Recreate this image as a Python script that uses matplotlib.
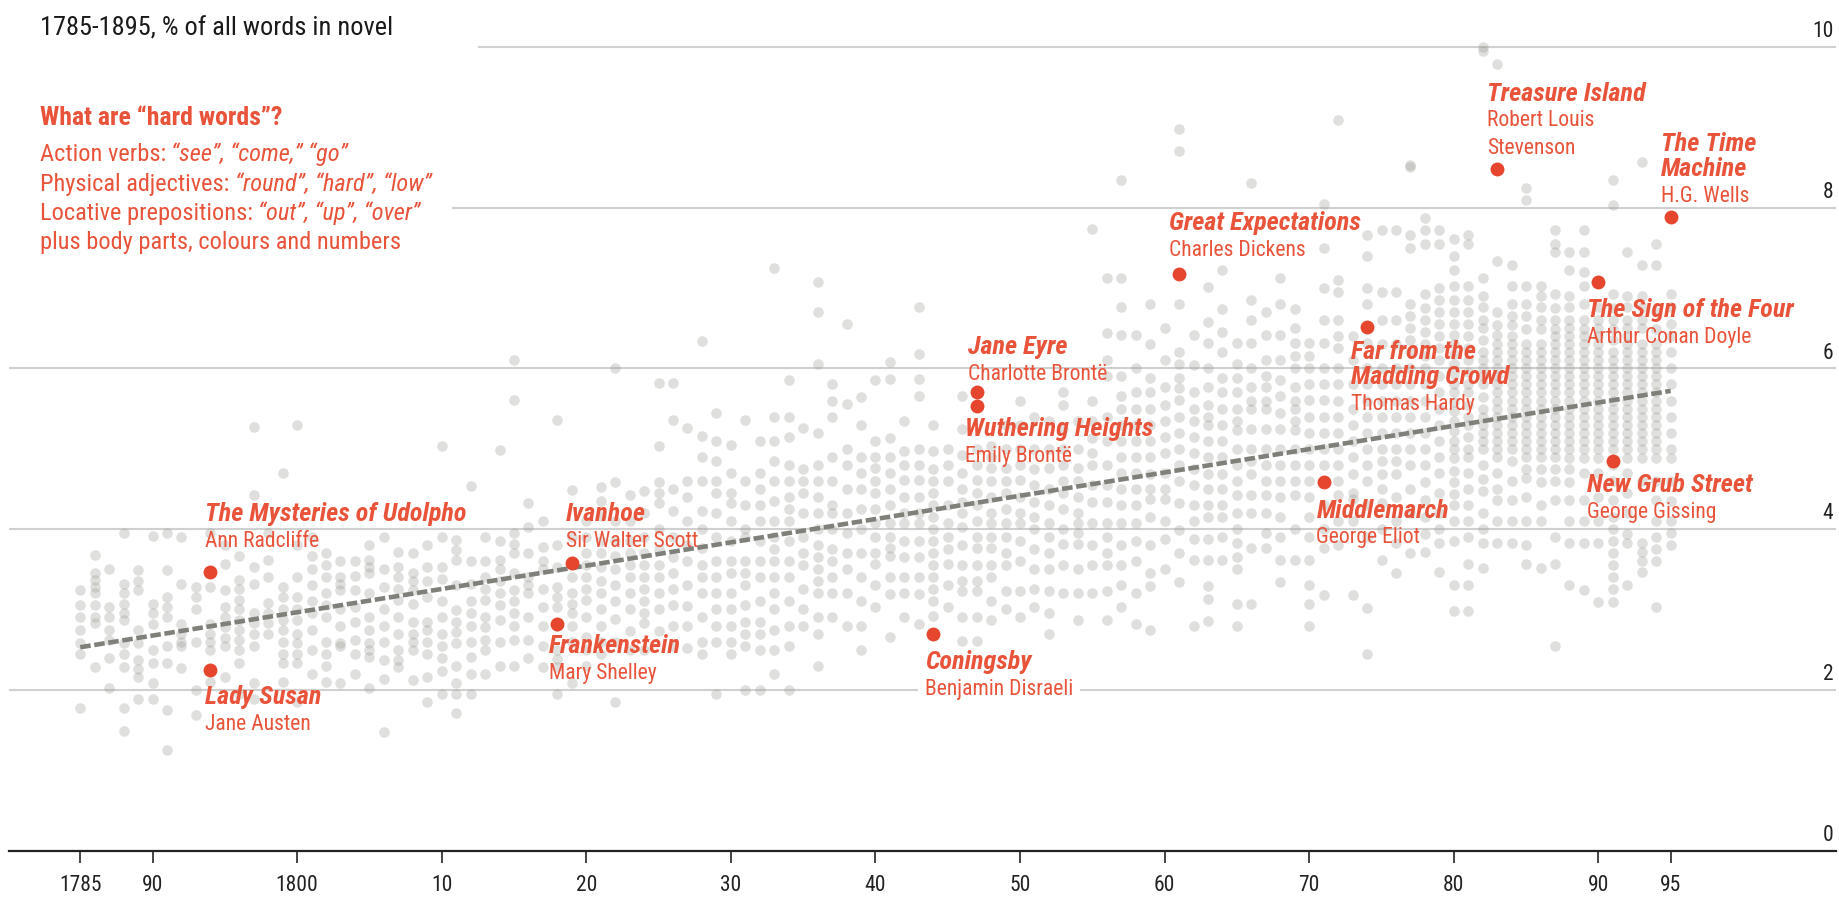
import matplotlib
matplotlib.use("Agg")
import matplotlib.pyplot as plt
from matplotlib import font_manager

# ---- data ----
tick_years = [1785, 1790, 1800, 1810, 1820, 1830, 1840, 1850, 1860, 1870, 1880, 1890, 1895]
tick_labels = ["1785", "90", "1800", "10", "20", "30", "40", "50", "60", "70", "80", "90", "95"]
y_ticks = [0, 2, 4, 6, 8, 10]

trend_years = [1785, 1895]
trend_values = [2.53, 5.72]

book_titles = ["The Mysteries of Udolpho", "Lady Susan", "Ivanhoe", "Frankenstein", "Coningsby",
               "Jane Eyre", "Wuthering Heights", "Great Expectations", "Far from the\nMadding Crowd",
               "Middlemarch", "Treasure Island", "The Time\nMachine", "The Sign of the Four",
               "New Grub Street"]
book_authors = ["Ann Radcliffe", "Jane Austen", "Sir Walter Scott", "Mary Shelley", "Benjamin Disraeli",
                "Charlotte Brontë", "Emily Brontë", "Charles Dickens", "Thomas Hardy",
                "George Eliot", "Robert Louis\nStevenson", "H.G. Wells", "Arthur Conan Doyle",
                "George Gissing"]
book_years = [1794, 1794, 1819, 1818, 1844, 1847, 1847, 1861, 1874, 1871, 1883, 1895, 1890, 1891]
book_values = [3.47, 2.25, 3.58, 2.82, 2.70, 5.71, 5.53, 7.17, 6.51, 4.58, 8.48, 7.88, 7.08, 4.85]

# all other novels, per publication year
cloud_1780s = {
    1785: [3.24, 3.05, 2.9, 2.74, 2.58, 2.45, 1.77],
    1786: [3.68, 3.45, 3.37, 3.28, 3.2, 3.05, 2.91, 2.83, 2.29],
    1787: [3.5, 3.03, 2.91, 2.75, 2.62, 2.4, 2.02],
    1788: [3.95, 3.32, 3.2, 3.07, 2.95, 2.87, 2.58, 2.45, 2.29, 1.77, 1.49],
    1789: [3.49, 3.36, 3.24, 2.74, 2.58, 2.37, 2.26, 2.16, 1.89],
}
cloud_1790s = {
    1790: [3.91, 3.07, 2.95, 2.82, 2.49, 2.33, 2.08, 1.88],
    1791: [3.95, 3.49, 3.16, 3.03, 2.91, 2.54, 2.33, 1.75, 1.25],
    1792: [3.9, 3.32, 2.82, 2.7, 2.6, 2.54, 2.27],
    1793: [3.28, 3.16, 3.0, 2.6, 2.0, 1.69],
    1794: [3.95, 3.28, 2.82, 2.7, 2.6, 2.49, 2.1],
    1795: [3.8, 3.57, 3.24, 3.03, 2.91, 2.78, 2.64, 2.54, 2.16],
    1796: [3.66, 3.37, 3.25, 3.12, 3.0, 2.87, 2.75, 2.62, 2.5, 2.33, 1.95],
    1797: [5.27, 4.42, 3.53, 3.32, 2.95, 2.83, 2.7, 2.54, 2.08, 1.88],
    1798: [3.95, 3.61, 3.4, 3.08, 2.95, 2.83, 2.7],
    1799: [4.7, 3.28, 3.15, 3.0, 2.87, 2.75, 2.6, 2.45, 2.33, 2.1],
}
cloud_1800s = {
    1800: [5.3, 3.8, 3.4, 3.16, 3.0, 2.87, 2.7, 2.58, 2.45, 2.33, 1.85],
    1801: [3.9, 3.66, 3.5, 3.3, 3.1, 2.95, 2.75, 2.5, 2.2],
    1802: [3.7, 3.55, 3.4, 3.2, 3.05, 2.9, 2.6, 2.45, 2.3, 2.1],
    1803: [3.6, 3.4, 3.32, 3.24, 3.0, 2.79, 2.58, 2.54, 2.08],
    1804: [3.6, 3.42, 3.24, 3.03, 2.85, 2.62, 2.45, 2.2],
    1805: [3.8, 3.62, 3.53, 3.45, 3.2, 2.91, 2.75, 2.58, 2.5, 2.41, 2.02],
    1806: [3.9, 3.5, 3.28, 3.0, 2.8, 2.6, 2.37, 2.14, 1.47],
    1807: [3.72, 3.53, 3.4, 3.25, 3.12, 2.9, 2.7, 2.5, 2.37, 2.29],
    1808: [3.7, 3.45, 3.35, 3.24, 3.07, 2.85, 2.7, 2.6, 2.49, 2.12],
    1809: [3.8, 3.53, 3.35, 3.16, 2.85, 2.75, 2.6, 2.45, 2.16, 1.85],
}
cloud_1810s = {
    1810: [5.03, 3.9, 3.53, 3.38, 3.1, 2.9, 2.7, 2.55, 2.4, 2.24, 1.95],
    1811: [3.86, 3.74, 3.62, 3.3, 2.99, 2.85, 2.72, 2.58, 2.3, 2.08, 1.95, 1.71],
    1812: [4.54, 3.6, 3.32, 3.1, 2.95, 2.8, 2.6, 2.41, 2.2, 1.95],
    1813: [3.9, 3.6, 3.4, 3.26, 3.12, 2.91, 2.78, 2.62, 2.49, 2.2],
    1814: [4.99, 3.85, 3.62, 3.5, 3.35, 3.2, 3.05, 2.87, 2.6, 2.3],
    1815: [6.11, 5.61, 3.95, 3.82, 3.7, 3.45, 3.24, 3.1, 2.95, 2.8, 2.62, 2.3],
    1816: [4.32, 4.03, 3.7, 3.4, 3.3, 3.2, 2.9, 2.62, 2.4],
    1817: [4.1, 3.78, 3.6, 3.5, 3.25, 3.03, 2.8, 2.55, 2.29],
    1818: [5.36, 3.8, 3.53, 3.28, 3.15, 3.03, 2.8, 2.49, 2.38, 2.29, 1.95],
    1819: [4.49, 3.9, 3.6, 3.4, 3.2, 3.07, 2.95, 2.8, 2.6, 2.08],
}
cloud_1820s = {
    1820: [4.1, 3.9, 3.7, 3.55, 3.4, 3.26, 3.12, 2.91, 2.66, 2.5, 2.3],
    1821: [4.53, 4.35, 4.16, 3.85, 3.7, 3.53, 3.35, 3.2, 3.0, 2.8, 2.6, 2.45],
    1822: [6.0, 4.59, 4.1, 3.85, 3.66, 3.5, 3.3, 3.1, 2.88, 2.6, 1.85],
    1823: [4.43, 4.1, 3.85, 3.7, 3.55, 3.4, 3.2, 3.0, 2.73, 2.5],
    1824: [4.48, 4.2, 3.9, 3.7, 3.55, 3.4, 3.25, 3.1, 2.95, 2.83, 2.5],
    1825: [5.82, 5.03, 4.59, 4.45, 4.33, 4.0, 3.75, 3.55, 3.4, 3.2, 3.0, 2.73],
    1826: [5.82, 5.36, 4.5, 4.23, 3.9, 3.65, 3.45, 3.25, 3.05, 2.8, 2.55],
    1827: [5.26, 4.6, 4.4, 4.1, 3.8, 3.6, 3.3, 3.04, 2.8, 2.52],
    1828: [6.34, 5.16, 4.9, 4.6, 4.23, 4.0, 3.76, 3.55, 3.4, 3.2, 2.9, 2.6, 2.45],
    1829: [5.44, 5.1, 4.85, 4.6, 4.45, 4.2, 3.9, 3.6, 3.4, 3.2, 3.0, 2.8, 2.6, 1.95],
}
cloud_1830s = {
    1830: [5.05, 4.7, 4.45, 4.33, 4.1, 3.85, 3.6, 3.45, 3.2, 3.0, 2.8, 2.6, 2.45],
    1831: [5.36, 4.6, 4.3, 4.0, 3.9, 3.6, 3.45, 3.3, 3.05, 2.85, 2.7, 2.55, 2.0],
    1832: [5.1, 4.7, 4.5, 4.3, 4.1, 3.85, 3.6, 3.4, 3.1, 2.85, 2.7, 2.5, 2.0],
    1833: [7.25, 5.4, 5.1, 4.85, 4.6, 4.35, 4.1, 3.9, 3.75, 3.6, 3.4, 3.2, 3.0, 2.75, 2.5, 2.2],
    1834: [5.85, 5.4, 5.15, 4.8, 4.6, 4.4, 4.25, 4.1, 3.85, 3.6, 3.4, 3.1, 2.8, 2.55, 2.0],
    1835: [5.26, 4.75, 4.6, 4.45, 4.2, 3.9, 3.7, 3.55, 3.25, 3.0, 2.8],
    1836: [7.07, 6.7, 6.06, 5.2, 4.8, 4.6, 4.4, 4.2, 4.0, 3.8, 3.65, 3.5, 3.35, 3.2, 2.9, 2.7, 2.3],
    1837: [5.8, 5.6, 5.4, 4.9, 4.6, 4.3, 4.2, 4.0, 3.75, 3.6, 3.4, 3.2, 2.9],
    1838: [6.55, 5.56, 5.0, 4.8, 4.5, 4.2, 3.95, 3.7, 3.5, 3.2, 2.8],
    1839: [5.65, 5.3, 4.9, 4.7, 4.5, 4.25, 4.0, 3.7, 3.4, 3.1, 2.8, 2.5],
}
cloud_1840s = {
    1840: [5.85, 5.1, 4.9, 4.76, 4.6, 4.45, 4.25, 4.08, 3.9, 3.7, 3.56, 3.3, 3.03],
    1841: [6.08, 5.87, 5.13, 4.9, 4.7, 4.5, 4.3, 4.08, 3.9, 3.76, 3.66, 3.4, 3.19, 2.66],
    1842: [5.34, 4.97, 4.8, 4.61, 4.4, 4.2, 4.08, 3.85, 3.65, 3.4, 3.2, 2.9],
    1843: [6.76, 6.18, 5.87, 5.66, 5.0, 4.8, 4.61, 4.4, 4.2, 4.08, 3.85, 3.65, 3.4, 3.19, 2.82],
    1844: [5.3, 4.97, 4.75, 4.6, 4.45, 4.3, 4.15, 4.0, 3.85, 3.7, 3.55, 3.4, 3.25, 3.1, 2.92],
    1845: [5.0, 4.8, 4.6, 4.3, 4.08, 3.9, 3.75, 3.56, 3.3, 3.03],
    1846: [5.66, 5.24, 4.92, 4.7, 4.5, 4.34, 4.2, 4.03, 3.8, 3.55, 3.35, 3.23, 2.9, 2.61],
    1847: [5.0, 4.8, 4.61, 4.45, 4.3, 4.1, 3.9, 3.76, 3.55, 3.35, 3.23, 2.9, 2.61],
    1848: [5.03, 4.9, 4.76, 4.6, 4.4, 4.2, 4.08, 3.9, 3.76, 3.55, 3.4, 3.1, 2.87],
    1849: [5.29, 5.0, 4.76, 4.6, 4.45, 4.25, 4.08, 3.9, 3.7, 3.55, 3.23, 3.0],
}
cloud_1850s = {
    1850: [5.6, 5.29, 5.0, 4.8, 4.61, 4.4, 4.2, 4.08, 3.85, 3.6, 3.23, 2.9],
    1851: [5.4, 5.0, 4.75, 4.55, 4.34, 4.15, 4.0, 3.75, 3.5, 3.25, 3.03],
    1852: [5.34, 5.0, 4.76, 4.5, 4.3, 4.08, 3.9, 3.7, 3.5, 3.23, 2.95, 2.7],
    1853: [5.71, 5.55, 5.24, 5.0, 4.8, 4.6, 4.45, 4.25, 4.0, 3.82, 3.55, 3.2],
    1854: [5.34, 5.0, 4.76, 4.6, 4.4, 4.2, 4.08, 3.95, 3.82, 3.5, 3.2, 2.87],
    1855: [7.74, 5.6, 5.34, 5.13, 4.95, 4.8, 4.55, 4.34, 4.08, 3.8, 3.55, 3.2],
    1856: [7.13, 6.44, 6.1, 5.9, 5.4, 5.1, 4.8, 4.55, 4.34, 4.08, 3.9, 3.7, 3.55, 3.23, 2.87],
    1857: [8.34, 7.13, 6.76, 6.42, 5.9, 5.66, 5.5, 5.3, 5.1, 4.9, 4.7, 4.5, 4.3, 4.08, 3.8, 3.55,
           3.3, 3.03],
    1858: [6.42, 6.0, 5.71, 5.5, 5.3, 5.1, 4.9, 4.7, 4.5, 4.3, 4.08, 3.85, 3.6, 3.2, 2.82],
    1859: [6.8, 6.3, 5.88, 5.7, 5.5, 5.3, 5.1, 4.9, 4.69, 4.5, 4.37, 4.15, 3.8, 3.45, 3.29, 2.75],
}
cloud_1860s = {
    1860: [6.5, 6.1, 5.77, 5.55, 5.35, 5.15, 4.95, 4.7, 4.5, 4.37, 4.1, 3.88, 3.5],
    1861: [8.98, 8.71, 6.8, 6.2, 6.05, 5.88, 5.75, 5.61, 5.4, 5.2, 5.0, 4.8, 4.6, 4.32, 3.99, 3.7,
           3.34],
    1862: [6.42, 6.04, 5.7, 5.5, 5.34, 5.15, 4.95, 4.75, 4.55, 4.3, 4.1, 3.88, 3.61, 2.8],
    1863: [7.01, 6.58, 6.31, 6.0, 5.77, 5.55, 5.4, 5.3, 5.1, 4.9, 4.69, 4.5, 4.3, 4.15, 3.88, 3.61,
           3.29, 3.13, 2.86],
    1864: [7.23, 6.74, 6.45, 6.2, 5.88, 5.7, 5.5, 5.3, 5.1, 4.9, 4.69, 4.5, 4.3, 4.15, 3.9, 3.61],
    1865: [6.31, 6.05, 5.88, 5.7, 5.5, 5.35, 5.23, 5.0, 4.8, 4.6, 4.42, 4.2, 4.0, 3.83, 3.65, 3.5,
           3.07, 2.8],
    1866: [8.31, 6.85, 6.6, 6.31, 6.0, 5.77, 5.6, 5.5, 5.25, 5.0, 4.85, 4.69, 4.42, 4.2, 3.77, 3.07],
    1867: [6.7, 6.42, 6.1, 5.9, 5.77, 5.6, 5.5, 5.25, 5.0, 4.8, 4.6, 4.42, 4.2, 3.95, 3.77],
    1868: [7.12, 6.8, 6.42, 6.1, 5.85, 5.66, 5.45, 5.25, 5.0, 4.8, 4.6, 4.4, 4.15, 3.9, 3.61, 3.34],
    1869: [6.74, 6.5, 6.31, 6.15, 6.0, 5.77, 5.6, 5.5, 5.35, 5.23, 5.0, 4.8, 4.6, 4.42, 4.0, 3.61],
}
cloud_1870s = {
    1870: [6.31, 6.15, 6.0, 5.8, 5.61, 5.4, 5.2, 5.0, 4.8, 4.6, 4.4, 4.15, 3.9, 3.61, 3.3, 3.07, 2.8],
    1871: [8.04, 7.5, 7.0, 6.6, 6.31, 6.0, 5.8, 5.61, 5.4, 5.2, 5.0, 4.8, 4.3, 4.0, 3.77, 3.18],
    1872: [9.09, 7.1, 6.95, 6.6, 6.4, 6.25, 6.0, 5.8, 5.6, 5.4, 5.2, 5.0, 4.8, 4.6, 4.42, 4.1, 3.8],
    1873: [6.4, 6.1, 5.8, 5.5, 5.3, 5.1, 4.9, 4.69, 4.45, 4.37, 4.1, 3.18],
    1874: [7.66, 7.4, 7.0, 6.8, 6.31, 6.0, 5.8, 5.6, 5.4, 5.2, 5.0, 4.8, 4.6, 4.3, 3.9, 3.02, 2.45],
    1875: [7.72, 6.95, 6.6, 6.3, 6.0, 5.8, 5.6, 5.4, 5.2, 5.0, 4.85, 4.69, 4.5, 4.32, 4.0, 3.61],
    1876: [7.72, 6.95, 6.6, 6.3, 6.0, 5.8, 5.6, 5.4, 5.2, 5.0, 4.85, 4.69, 4.4, 4.1, 3.83, 3.45],
    1877: [8.53, 8.51, 7.66, 7.5, 6.8, 6.65, 6.5, 6.35, 6.2, 6.0, 5.8, 5.6, 5.4, 5.2, 5.0, 4.8, 4.5,
           4.2, 3.7],
    1878: [7.87, 7.72, 7.55, 6.92, 6.75, 6.6, 6.45, 6.3, 6.15, 6.0, 5.8, 5.6, 5.4, 5.2, 5.0, 4.8,
           4.58, 4.36, 4.15, 3.94, 3.72],
    1879: [7.72, 7.55, 7.0, 6.85, 6.7, 6.55, 6.4, 6.25, 6.1, 5.9, 5.7, 5.5, 5.3, 5.1, 4.9, 4.7,
           4.45, 4.2, 4.0, 3.83, 3.46],
}
cloud_1880s = {
    1880: [7.61, 7.4, 7.23, 7.02, 6.85, 6.7, 6.55, 6.42, 6.3, 6.18, 6.05, 5.93, 5.8, 5.7, 5.58,
           5.47, 5.35, 5.22, 5.1, 5.0, 4.88, 4.72, 4.58, 4.44, 4.3, 4.1, 3.85, 3.3, 2.98],
    1881: [7.66, 7.55, 7.02, 6.85, 6.7, 6.55, 6.4, 6.25, 6.1, 5.95, 5.8, 5.7, 5.55, 5.4, 5.3, 5.15,
           5.0, 4.9, 4.7, 4.5, 4.3, 4.1, 3.9, 3.56, 3.3, 2.98],
    1882: [10.0, 9.95, 7.13, 6.9, 6.76, 6.6, 6.5, 6.35, 6.2, 6.1, 6.0, 5.9, 5.8, 5.65, 5.5, 5.4,
           5.3, 5.2, 5.1, 5.0, 4.8, 4.62, 4.47, 4.2, 4.0, 3.83, 3.51],
    1883: [9.79, 7.34, 6.7, 6.54, 6.42, 6.3, 6.2, 6.1, 6.0, 5.9, 5.8, 5.7, 5.6, 5.5, 5.4, 5.3, 5.2,
           5.1, 5.0, 4.9, 4.7, 4.5, 4.36, 4.1, 3.83],
    1884: [7.29, 7.02, 6.8, 6.65, 6.54, 6.4, 6.3, 6.2, 6.1, 6.0, 5.9, 5.8, 5.7, 5.6, 5.5, 5.4, 5.3,
           5.2, 5.1, 5.0, 4.85, 4.6, 4.36, 4.1, 3.83],
    1885: [8.24, 8.1, 7.02, 6.8, 6.65, 6.49, 6.3, 6.2, 6.1, 6.0, 5.9, 5.8, 5.7, 5.6, 5.5, 5.4, 5.3,
           5.2, 5.1, 5.0, 4.9, 4.75, 4.63, 4.4, 4.1, 3.8, 3.56],
    1886: [7.02, 6.9, 6.76, 6.6, 6.49, 6.3, 6.2, 6.1, 6.0, 5.9, 5.8, 5.7, 5.6, 5.5, 5.4, 5.3, 5.2,
           5.1, 5.0, 4.9, 4.75, 4.58, 4.3, 4.1, 3.51],
    1887: [7.72, 7.55, 7.45, 6.92, 6.75, 6.6, 6.49, 6.4, 6.3, 6.2, 6.1, 6.0, 5.9, 5.8, 5.7, 5.6,
           5.5, 5.4, 5.3, 5.2, 5.1, 5.0, 4.9, 4.75, 4.6, 4.36, 3.9, 3.56, 2.55],
    1888: [7.45, 7.23, 6.9, 6.76, 6.6, 6.5, 6.4, 6.3, 6.2, 6.1, 6.0, 5.9, 5.8, 5.7, 5.6, 5.5, 5.4,
           5.3, 5.2, 5.1, 5.0, 4.89, 4.75, 4.58, 4.36, 4.1, 3.83, 3.3],
    1889: [7.72, 7.45, 7.2, 7.02, 6.8, 6.6, 6.49, 6.4, 6.3, 6.2, 6.1, 6.0, 5.9, 5.8, 5.7, 5.6, 5.5,
           5.4, 5.3, 5.2, 5.1, 5.0, 4.89, 4.7, 4.36, 4.1, 3.83, 3.24],
}
cloud_1890s = {
    1890: [6.76, 6.6, 6.5, 6.4, 6.3, 6.2, 6.1, 6.0, 5.9, 5.8, 5.7, 5.6, 5.5, 5.4, 5.3, 5.2, 5.1,
           5.0, 4.89, 4.7, 4.4, 4.1, 3.83, 3.09],
    1891: [8.35, 8.03, 6.92, 6.75, 6.6, 6.49, 6.35, 6.2, 6.1, 6.0, 5.9, 5.8, 5.7, 5.6, 5.5, 5.4,
           5.3, 5.2, 5.1, 5.0, 4.8, 4.6, 4.36, 4.15, 4.0, 3.85, 3.7, 3.55, 3.4, 3.25, 3.09],
    1892: [7.45, 6.9, 6.76, 6.6, 6.5, 6.4, 6.3, 6.2, 6.1, 6.0, 5.9, 5.8, 5.7, 5.6, 5.5, 5.4, 5.3,
           5.2, 5.1, 5.0, 4.89, 4.7, 4.45, 4.2, 3.94, 3.83, 3.3],
    1893: [8.57, 7.29, 6.9, 6.76, 6.6, 6.5, 6.3, 6.2, 6.1, 6.0, 5.9, 5.8, 5.7, 5.6, 5.5, 5.4, 5.3,
           5.2, 5.1, 5.0, 4.89, 4.6, 3.83, 3.72, 3.6, 3.46],
    1894: [7.55, 7.29, 6.7, 6.49, 6.3, 6.2, 6.1, 6.0, 5.9, 5.8, 5.7, 5.6, 5.5, 5.4, 5.3, 5.2, 5.1,
           5.0, 4.89, 4.6, 4.36, 4.1, 3.9, 3.75, 3.6, 3.03],
    1895: [6.92, 6.76, 6.55, 6.4, 6.2, 6.0, 5.8, 5.6, 5.4, 5.2, 5.0, 4.89, 4.6, 4.35, 4.1, 3.95, 3.8],
}

notes_heading = "What are \u201chard words\u201d?"
notes_lines = [("Action verbs: ", "\u201csee\u201d, \u201ccome,\u201d \u201cgo\u201d"),
               ("Physical adjectives: ", "\u201cround\u201d, \u201chard\u201d, \u201clow\u201d"),
               ("Locative prepositions: ", "\u201cout\u201d, \u201cup\u201d, \u201cover\u201d"),
               ("plus body parts, colours and numbers", "")]
subtitle = "1785-1895, % of all words in novel"

# ---- style ----
installed = {f.name for f in font_manager.fontManager.ttflist}
narrow = [n for n in ["Roboto Condensed", "Liberation Sans Narrow", "Open Sans Condensed"] if n in installed]
FONT = narrow[0] if narrow else "Lato"
FS = 1.0 if narrow else 0.84
plt.rcParams["font.family"] = [FONT, "DejaVu Sans"]

RED = "#e5462d"
RED_TEXT = "#e9533a"
GREY_DOT = "#9a9a94"
GRID = "#d0d0d0"

X_LO, X_HI = 1780.1, 1906.4
Y_LO, Y_HI = 0, 10.584

fig = plt.figure(figsize=(18.39, 9.01), dpi=100)
ax = fig.add_axes([0.0051, 0.056, 0.9930, 0.944])
ax.set_xlim(X_LO, X_HI)
ax.set_ylim(Y_LO, Y_HI)

for side in ["top", "right", "left"]:
    ax.spines[side].set_visible(False)
ax.spines["bottom"].set_color("#222222")
ax.spines["bottom"].set_linewidth(1.6)
ax.set_xticks(tick_years)
ax.set_xticklabels(tick_labels)
ax.tick_params(axis="x", direction="out", length=8.5, width=1.4, color="#444444",
               labelsize=15.5 * FS, labelcolor="#222222", pad=9)
ax.set_yticks([])

# gridlines; the top two stop short of the text block on the left
grid_start = {10: 1812.5, 8: 1810.7}
for v in y_ticks[1:]:
    ax.hlines(v, grid_start.get(v, X_LO), X_HI, color=GRID, lw=1.5, zorder=1)
for v in y_ticks:
    ax.text(X_HI - 0.15, v + 0.06, str(v), ha="right", va="bottom",
            fontsize=15.5 * FS, color="#222222")

# cloud of novels
xs, ys = [], []
for part in (cloud_1780s, cloud_1790s, cloud_1800s, cloud_1810s, cloud_1820s, cloud_1830s,
             cloud_1840s, cloud_1850s, cloud_1860s, cloud_1870s, cloud_1880s, cloud_1890s):
    for yr, vals in part.items():
        xs.extend([yr] * len(vals))
        ys.extend(vals)
ax.scatter(xs, ys, s=58, color=GREY_DOT, alpha=0.31, linewidths=0, zorder=2)

# trend
ax.plot(trend_years, trend_values, color="#80807a", lw=3.3, dashes=(2.3, 0.8),
        dash_capstyle="butt", zorder=3)

# highlighted novels
ax.scatter(book_years, book_values, s=100, color=RED, linewidths=0, zorder=4)

# label anchors: (left x in years, centre of first title line)
label_pos = [(1793.6, 4.19), (1793.6, 1.91), (1818.6, 4.19), (1817.4, 2.54), (1843.4, 2.35),
             (1846.4, 6.26), (1846.2, 5.24), (1860.3, 7.81), (1872.9, 6.20), (1870.5, 4.23),
             (1882.3, 9.42), (1894.3, 8.79), (1889.2, 6.73), (1889.2, 4.55)]
for title, author, (lx, ly) in zip(book_titles, book_authors, label_pos):
    y = ly
    for i, line in enumerate(title.split("\n")):
        if i:
            y -= 0.31
        ax.text(lx, y, line, ha="left", va="center", fontsize=18.8 * FS, fontweight="bold",
                fontstyle="italic", color=RED_TEXT, zorder=7)
    for line in author.split("\n"):
        y -= 0.34
        bbox = None
        if author == "Benjamin Disraeli":
            bbox = dict(facecolor="white", edgecolor="none", pad=5)
        ax.text(lx, y, line, ha="left", va="center", fontsize=15.6 * FS, color=RED_TEXT,
                zorder=6, bbox=bbox)

# subtitle and explanatory note, top left
ax.text(1782.2, 10.23, subtitle, ha="left", va="center", fontsize=19 * FS, color="#1a1a1a")
ax.text(1782.2, 9.11, notes_heading, ha="left", va="center", fontsize=18.5 * FS,
        fontweight="bold", color=RED_TEXT)
renderer = fig.canvas.get_renderer()
line_y = [8.58, 8.21, 7.85, 7.48]
for (plain, ital), y in zip(notes_lines, line_y):
    t = ax.text(1782.2, y, plain, ha="left", va="baseline", fontsize=17.6 * FS, color=RED_TEXT)
    if ital:
        bb = t.get_window_extent(renderer)
        x_next = ax.transData.inverted().transform((bb.x1, bb.y0))[0]
        ax.text(x_next, y, ital, ha="left", va="baseline", fontsize=17.6 * FS,
                fontstyle="italic", color=RED_TEXT)

fig.savefig("out.png", dpi=100, facecolor="white")
